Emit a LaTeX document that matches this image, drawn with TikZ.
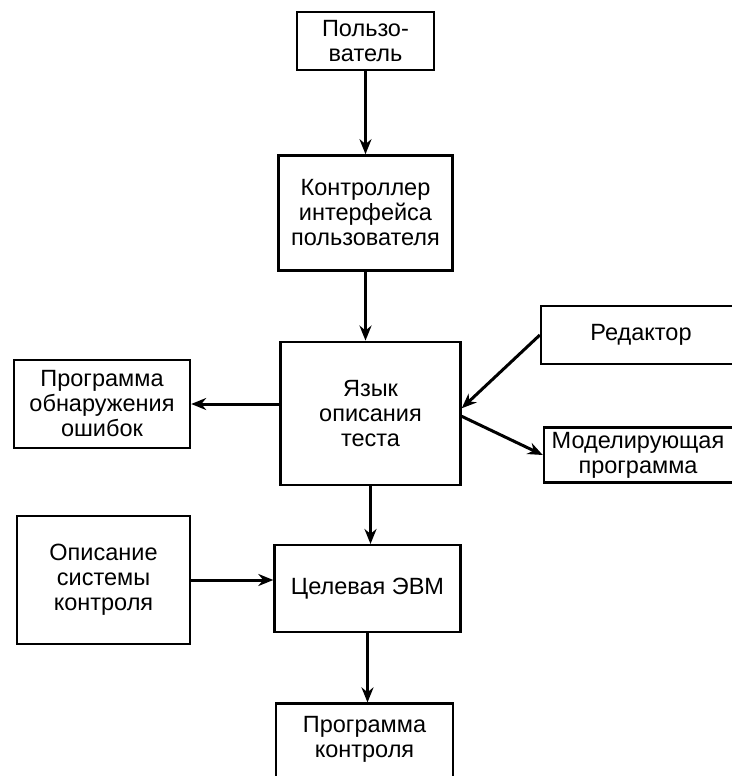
\documentclass[tikz,border=0pt]{standalone}
\usepackage{fontspec}
\setmainfont{Liberation Sans}
\usetikzlibrary{positioning, arrows.meta}
\tikzset{
block/.style={draw, line width=2.4pt, align=center, inner sep=2pt, font=\fontsize{23.5}{25}\selectfont}, % every box
flow/.style={-{Stealth[length=15pt,width=12pt]}, line width=3pt}, % the arrows between boxes
}

\begin{document}
\begin{tikzpicture}[x=1pt, y=1pt]
\useasboundingbox (0,0) rectangle (731,-776);
% main column
\node[block, minimum width=137pt, minimum height=58pt] (user) at (365.5,-41) {Пользо-\\ватель};
\node[block, minimum width=174pt, minimum height=115pt, below=83pt of user] (ctrl) {Контроллер\\интерфейса\\пользователя};
\node[block, minimum width=180pt, minimum height=143pt, below=69pt of ctrl, xshift=5pt] (lang) {Язык\\описания\\теста};
\node[block, minimum width=186pt, minimum height=87pt, below=58pt of lang, xshift=-3pt] (target) {Целевая ЭВМ};
\node[block, minimum width=177pt, minimum height=86pt, text depth=20pt, below=69pt of target, xshift=-3pt] (prog) {Программа\\контроля};
% side boxes
\node[block, minimum width=176pt, minimum height=88pt] (err) at (102,-404) {Программа\\обнаружения\\ошибок};
\node[block, minimum width=200pt, minimum height=58pt] (edit) at (641,-335) {Редактор};
\node[block, minimum width=198pt, minimum height=55pt, inner sep=0pt] (sim) at (643,-455) {\hspace*{-10pt}Моделирующая\\\hspace*{-10pt}программа};
\node[block, minimum width=173pt, minimum height=128pt] (desc) at (103.5,-580) {Описание\\системы\\контроля};

\draw[flow] (user.south) -- (user.south |- ctrl.north);
\draw[flow] (ctrl.south) -- (ctrl.south |- lang.north);
\draw[flow] (lang.south) -- (lang.south |- target.north);
\draw[flow] (target.south) -- (target.south |- prog.north);
\draw[flow] (lang.west |- err.east) -- (err.east);
\draw[flow] (edit.west) -- ([yshift=5pt]lang.east);
\draw[flow] ([yshift=-3pt]lang.east) -- (sim.west);
\draw[flow] (desc.east) -- (desc.east -| target.west);
\end{tikzpicture}
\end{document}
